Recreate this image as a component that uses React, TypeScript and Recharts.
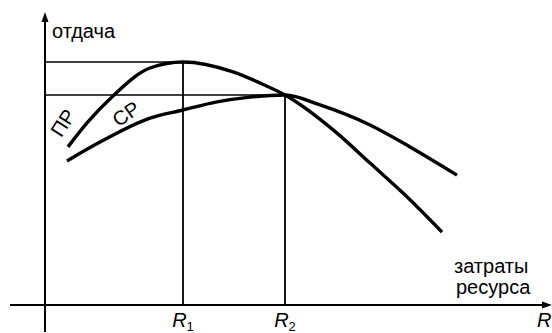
import { ComposedChart, Line, ReferenceDot, ReferenceLine, XAxis, YAxis } from "recharts";

// resource input (x) vs output (y)
const MP_X = [4.6, 8.4, 13.6, 21, 27.6, 37.6, 43, 48, 58.4, 65, 71.6, 79.4];
const MP_Y = [52.7, 60.7, 69.7, 79, 81, 77.7, 74, 70, 57.3, 47.3, 37.3, 24.3];
const AP_X = [4.4, 11, 21, 27.6, 34.4, 41, 48, 55, 65, 73, 82.4];
const AP_Y = [48, 54.3, 62.3, 65, 67.7, 69.3, 70, 66.7, 60, 52.7, 43.3];

const R1 = 27.6;
const R2 = 48;
const MP_MAX = 81;
const AP_MAX = 70;

const mpData = MP_X.map((x, i) => ({ x, y: MP_Y[i] }));
const apData = AP_X.map((x, i) => ({ x, y: AP_Y[i] }));

const FONT = "'Liberation Sans', Arial, sans-serif";
const INK = "#000";

function arrowAxis(p: any) {
  const { x1, y1, x2, y2 } = p;
  const ang = Math.atan2(y2 - y1, x2 - x1);
  const len = 10;
  const half = 3.5;
  const bx = x2 - len * Math.cos(ang);
  const by = y2 - len * Math.sin(ang);
  const nx = -Math.sin(ang) * half;
  const ny = Math.cos(ang) * half;
  return (
    <g>
      <line x1={x1} y1={y1} x2={bx} y2={by} stroke={INK} strokeWidth={2} />
      <polygon points={`${x2},${y2} ${bx + nx},${by + ny} ${bx - nx},${by - ny}`} fill={INK} />
    </g>
  );
}

function txt(value: string, opts: { anchor?: string; rotate?: number; italic?: boolean; sub?: string } = {}) {
  return (p: any) => (
    <text
      x={p.cx}
      y={p.cy}
      fontFamily={FONT}
      fontSize={20}
      fill={INK}
      textAnchor={opts.anchor ?? "start"}
      dominantBaseline={opts.rotate !== undefined ? "central" : "auto"}
      fontStyle={opts.italic ? "italic" : "normal"}
      transform={opts.rotate !== undefined ? `rotate(${opts.rotate} ${p.cx} ${p.cy})` : undefined}
    >
      {value}
      {opts.sub && (
        <tspan fontSize={13} dy={4} fontStyle="normal">
          {opts.sub}
        </tspan>
      )}
    </text>
  );
}

export default function App() {
  return (
    <div style={{ position: "absolute", left: 0, top: 0, width: 552, height: 333, background: "#fff" }}>
      <ComposedChart width={552} height={333} margin={{ top: 5, right: 7, bottom: 28, left: 45 }}>
        <XAxis dataKey="x" type="number" domain={[0, 100]} hide />
        <YAxis type="number" domain={[0, 100]} hide />

        {/* axes with arrows */}
        <ReferenceLine segment={[{ x: -7, y: 0 }, { x: 101.4, y: 0 }]} ifOverflow="visible" shape={arrowAxis} />
        <ReferenceLine segment={[{ x: 0, y: -9 }, { x: 0, y: 97.7 }]} ifOverflow="visible" shape={arrowAxis} />

        {/* guide lines */}
        <ReferenceLine segment={[{ x: 0, y: MP_MAX }, { x: R1, y: MP_MAX }]} stroke={INK} strokeWidth={1.6} />
        <ReferenceLine segment={[{ x: 0, y: AP_MAX }, { x: R2, y: AP_MAX }]} stroke={INK} strokeWidth={1.6} />
        <ReferenceLine segment={[{ x: R1, y: 0 }, { x: R1, y: MP_MAX }]} stroke={INK} strokeWidth={1.8} />
        <ReferenceLine segment={[{ x: R2, y: 0 }, { x: R2, y: AP_MAX }]} stroke={INK} strokeWidth={1.8} />

        <Line data={mpData} dataKey="y" type="monotone" stroke={INK} strokeWidth={3.4} dot={false} isAnimationActive={false} />
        <Line data={apData} dataKey="y" type="monotone" stroke={INK} strokeWidth={3.4} dot={false} isAnimationActive={false} />

        {/* labels */}
        <ReferenceDot x={1.4} y={89} ifOverflow="visible" shape={txt("отдача")} />
        <ReferenceDot x={81.8} y={10.7} ifOverflow="visible" shape={txt("затраты")} />
        <ReferenceDot x={82.2} y={3.8} ifOverflow="visible" shape={txt("ресурса")} />
        <ReferenceDot x={R1} y={-7.3} ifOverflow="visible" shape={txt("R", { anchor: "middle", italic: true, sub: "1" })} />
        <ReferenceDot x={R2} y={-7.3} ifOverflow="visible" shape={txt("R", { anchor: "middle", italic: true, sub: "2" })} />
        <ReferenceDot x={98.4} y={-7.3} ifOverflow="visible" shape={txt("R", { italic: true })} />
        <ReferenceDot x={3.6} y={60.7} ifOverflow="visible" shape={txt("ПР", { anchor: "middle", rotate: -57 })} />
        <ReferenceDot x={16.2} y={63.7} ifOverflow="visible" shape={txt("СР", { anchor: "middle", rotate: -35 })} />
      </ComposedChart>
    </div>
  );
}
